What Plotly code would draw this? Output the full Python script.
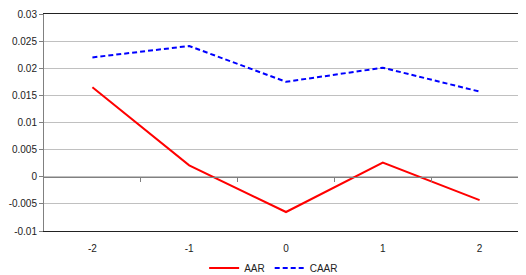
import plotly.graph_objects as go

categories = [-2, -1, 0, 1, 2]
aar = [0.0165, 0.0021, -0.0065, 0.0026, -0.0043]
caar = [0.0220, 0.0241, 0.0175, 0.0201, 0.0157]
y_ticks = [-0.01, -0.005, 0, 0.005, 0.01, 0.015, 0.02, 0.025, 0.03]
y_tick_labels = ["-0.01", "-0.005", "0", "0.005", "0.01", "0.015", "0.02", "0.025", "0.03"]
boundary_ticks = [-1.5, -0.5, 0.5, 1.5]

font = dict(family="Liberation Sans, Arial, sans-serif", size=10, color="#222")

fig = go.Figure()
fig.add_trace(go.Scatter(x=categories, y=aar, mode="lines", name="AAR",
                         line=dict(color="#FF0000", width=2)))
fig.add_trace(go.Scatter(x=categories, y=caar, mode="lines", name="CAAR",
                         line=dict(color="#0000FF", width=2, dash="5px,3px")))
# helper trace so the zero-crossing category axis is drawn
fig.add_trace(go.Scatter(x=categories, y=[None] * len(categories), xaxis="x2",
                         mode="lines", showlegend=False, hoverinfo="skip"))

xr = [-2.5, 2.5]
fig.update_layout(
    width=526, height=275,
    margin=dict(l=36, r=6, t=6, b=52, autoexpand=False),
    paper_bgcolor="white", plot_bgcolor="white",
    font=font,
    showlegend=True,
    legend=dict(orientation="h", xref="container", x=0.505, xanchor="center",
                yref="container", y=0.055, yanchor="middle",
                font=dict(size=10), itemwidth=30, bgcolor="rgba(0,0,0,0)"),
    xaxis=dict(range=xr, tickvals=categories, ticktext=[str(c) for c in categories],
               showgrid=False, zeroline=False, showline=True, linecolor="#222",
               linewidth=1, mirror=True, ticks="", ticklabelstandoff=8,
               automargin=False),
    xaxis2=dict(range=xr, overlaying="x", anchor="free", position=0.25,
                tickvals=boundary_ticks, showticklabels=False, ticks="outside",
                ticklen=4, tickcolor="#808080", showline=True, linecolor="#808080",
                showgrid=False, zeroline=False, side="bottom", automargin=False),
    yaxis=dict(range=[-0.01, 0.03], tickvals=y_ticks, ticktext=y_tick_labels,
               showgrid=True, gridcolor="#c0c0c0", gridwidth=1,
               zeroline=False, showline=True, linecolor="#808080",
               ticks="outside", ticklen=4, tickcolor="#808080", automargin=False),
)
fig.write_html("out.html")
